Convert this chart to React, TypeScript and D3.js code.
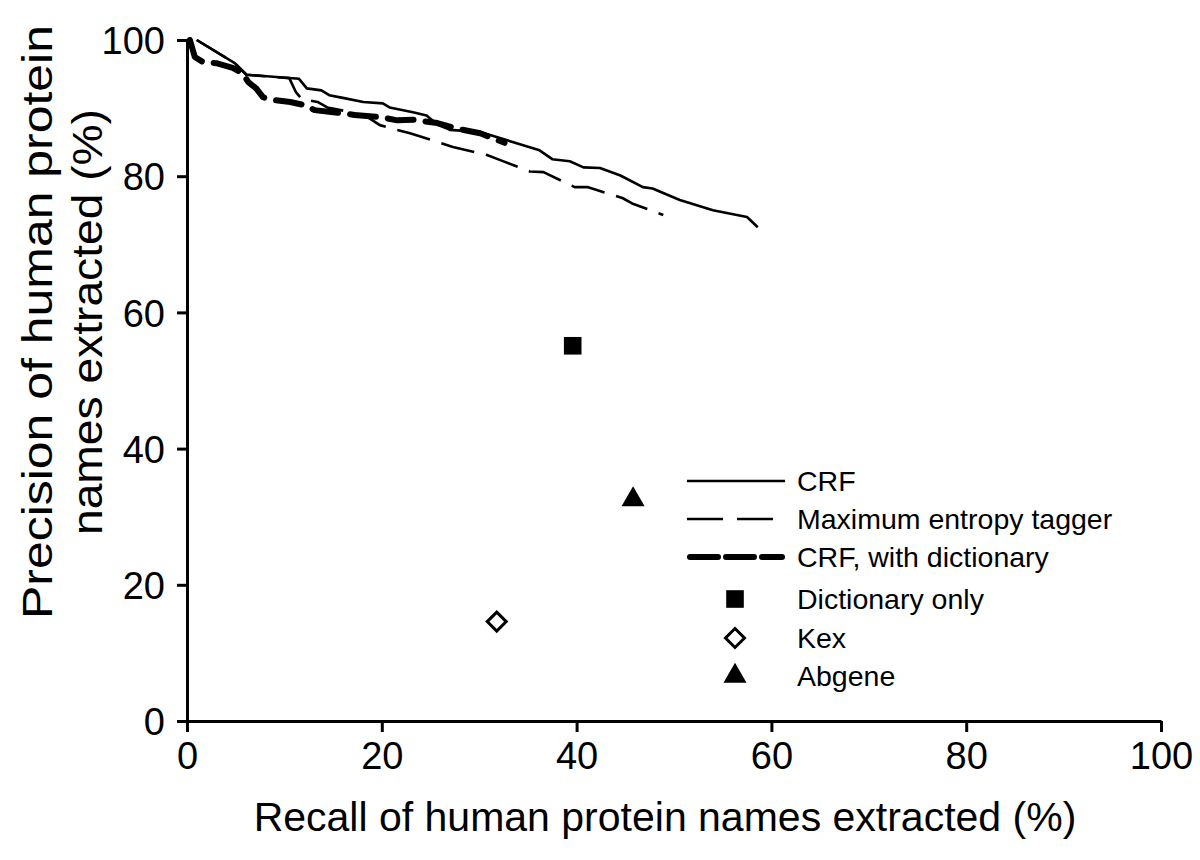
import React, { useEffect, useRef } from 'react';
import * as d3 from 'd3';

// [recall %, precision %]
const crfCurve = [
  [1.0, 100], [4.9, 96.6], [6.1, 94.9], [11.5, 94.3], [12.3, 92.9], [13.8, 92.6],
  [14.6, 91.9], [16.0, 91.5], [18.1, 90.9], [20.1, 90.7], [20.8, 90.1], [23.2, 89.4],
  [24.6, 88.9], [25.7, 87.6], [27.0, 86.8], [30.1, 86.5], [32.8, 85.3], [36.2, 83.8],
  [37.5, 82.5], [39.3, 82.2], [40.7, 81.3], [42.4, 81.2], [44.5, 80.1], [46.8, 78.4],
  [47.8, 78.2], [50.6, 76.5], [54.0, 75.0], [57.5, 74.0], [58.6, 72.5],
];

const maxentCurve = [
  [1.0, 100], [4.9, 96.6], [6.1, 94.9], [10.5, 94.4], [11.2, 92.3], [11.8, 91.3],
  [13.4, 90.9], [14.4, 90.1], [16.5, 89.5], [18.5, 88.7], [19.8, 87.5], [21.6, 86.8],
  [22.9, 86.3], [26.0, 84.9], [27.3, 84.3], [30.8, 83.1], [32.1, 82.4], [35.2, 80.7],
  [36.6, 80.6], [39.8, 78.4], [41.1, 78.4], [44.7, 76.8], [45.7, 76.0], [48.9, 74.3],
];

const crfDictCurve = [
  [0.3, 100], [0.8, 97.5], [1.6, 96.8], [3.0, 96.6], [4.7, 95.9], [5.7, 95.1],
  [6.3, 93.8], [7.1, 92.9], [7.8, 91.6], [8.8, 91.2], [10.6, 90.9], [12.2, 90.4],
  [13.1, 89.7], [15.0, 89.4], [17.2, 89.0], [19.8, 88.7], [21.6, 88.2], [23.2, 88.3],
  [25.7, 87.8], [28.0, 86.9], [30.1, 86.3], [32.6, 84.9],
];

const dictOnlyPoint = [39.6, 55.1];
const kexPoint = [31.8, 14.6];
const abgenePoint = [45.8, 32.5];

const xTicks = [0, 20, 40, 60, 80, 100];
const yTicks = [0, 20, 40, 60, 80, 100];

const legendLabels = [
  'CRF',
  'Maximum entropy tagger',
  'CRF, with dictionary',
  'Dictionary only',
  'Kex',
  'Abgene',
];

const FONT = '"Liberation Sans", Arial, Helvetica, sans-serif';

function drawChart(svgEl) {
  const svg = d3.select(svgEl);
  svg.selectAll('*').remove();

  const x = d3.scaleLinear().domain([0, 100]).range([187, 1161]);
  const y = d3.scaleLinear().domain([0, 100]).range([721, 40]);

  const line = d3
    .line()
    .x((d) => x(d[0]))
    .y((d) => y(d[1]));

  // curves
  svg
    .append('path')
    .datum(crfCurve)
    .attr('d', line)
    .attr('fill', 'none')
    .attr('stroke', '#000')
    .attr('stroke-width', 2.6)
    .attr('stroke-linejoin', 'round');

  svg
    .append('path')
    .datum(maxentCurve)
    .attr('d', line)
    .attr('fill', 'none')
    .attr('stroke', '#000')
    .attr('stroke-width', 2.6)
    .attr('stroke-dasharray', '34 12')
    .attr('stroke-linejoin', 'round');

  svg
    .append('path')
    .datum(crfDictCurve)
    .attr('d', line)
    .attr('fill', 'none')
    .attr('stroke', '#000')
    .attr('stroke-width', 6)
    .attr('stroke-dasharray', '26 12')
    .attr('stroke-linecap', 'round')
    .attr('stroke-linejoin', 'round');

  // point markers
  const square = d3.symbol().type(d3.symbolSquare).size(310);
  const diamond = (cx, cy, r) => `M${cx},${cy - r}L${cx + r},${cy}L${cx},${cy + r}L${cx - r},${cy}Z`;
  const triangle = d3.symbol().type(d3.symbolTriangle).size(230);

  const drawSquare = (cx, cy) =>
    svg.append('path').attr('d', square()).attr('transform', `translate(${cx},${cy})`).attr('fill', '#000');
  const drawDiamond = (cx, cy) =>
    svg
      .append('path')
      .attr('d', diamond(cx, cy, 9.5))
      .attr('fill', '#fff')
      .attr('stroke', '#000')
      .attr('stroke-width', 3);
  const drawTriangle = (cx, cy) =>
    svg.append('path').attr('d', triangle()).attr('transform', `translate(${cx},${cy})`).attr('fill', '#000');

  drawSquare(x(dictOnlyPoint[0]), y(dictOnlyPoint[1]));
  drawDiamond(x(kexPoint[0]), y(kexPoint[1]));
  drawTriangle(x(abgenePoint[0]), y(abgenePoint[1]));

  // axes
  const xAxis = svg
    .append('g')
    .attr('transform', `translate(0,${y(0)})`)
    .call(d3.axisBottom(x).tickValues(xTicks).tickSize(11).tickSizeOuter(0).tickPadding(10));
  const yAxis = svg
    .append('g')
    .attr('transform', `translate(${x(0)},0)`)
    .call(d3.axisLeft(y).tickValues(yTicks).tickSize(10).tickSizeOuter(0).tickPadding(12));

  [xAxis, yAxis].forEach((g) => {
    g.select('.domain').attr('stroke-width', 3);
    g.selectAll('.tick line').attr('stroke-width', 3);
    g.selectAll('.tick text')
      .attr('font-family', FONT)
      .attr('font-size', 38)
      .attr('fill', '#000');
  });
  yAxis.selectAll('.tick text').attr('dy', '0.36em');

  // axis titles
  svg
    .append('text')
    .attr('x', 665)
    .attr('y', 831)
    .attr('text-anchor', 'middle')
    .attr('font-family', FONT)
    .attr('font-size', 41)
    .text('Recall of human protein names extracted (%)');

  svg
    .append('text')
    .attr('transform', 'translate(52,322) rotate(-90)')
    .attr('text-anchor', 'middle')
    .attr('font-family', FONT)
    .attr('font-size', 42)
    .attr('textLength', 594)
    .attr('lengthAdjust', 'spacingAndGlyphs')
    .text('Precision of human protein');

  svg
    .append('text')
    .attr('transform', 'translate(102,322) rotate(-90)')
    .attr('text-anchor', 'middle')
    .attr('font-family', FONT)
    .attr('font-size', 42)
    .attr('textLength', 426)
    .attr('lengthAdjust', 'spacingAndGlyphs')
    .text('names extracted (%)');

  // legend
  const legendX0 = 687;
  const legendX1 = 785;
  const legendTextX = 797;
  const rowY = [481, 519, 557, 599, 638, 676];

  svg.append('line')
    .attr('x1', legendX0).attr('x2', legendX1).attr('y1', rowY[0]).attr('y2', rowY[0])
    .attr('stroke', '#000').attr('stroke-width', 2.6);
  svg.append('line')
    .attr('x1', legendX0).attr('x2', legendX1).attr('y1', rowY[1]).attr('y2', rowY[1])
    .attr('stroke', '#000').attr('stroke-width', 2.6).attr('stroke-dasharray', '36 14');
  svg.append('line')
    .attr('x1', legendX0 + 3).attr('x2', legendX1 - 3).attr('y1', rowY[2]).attr('y2', rowY[2])
    .attr('stroke', '#000').attr('stroke-width', 6).attr('stroke-dasharray', '28 8')
    .attr('stroke-linecap', 'round');

  const markerX = 735;
  drawSquare(markerX, rowY[3]);
  drawDiamond(markerX, rowY[4]);
  drawTriangle(markerX, rowY[5]);

  svg
    .append('g')
    .selectAll('text')
    .data(legendLabels)
    .join('text')
    .attr('x', legendTextX)
    .attr('y', (d, i) => rowY[i] + 10)
    .attr('font-family', FONT)
    .attr('font-size', 28.5)
    .attr('fill', '#000')
    .text((d) => d);
}

export default function App() {
  const svgRef = useRef(null);

  useEffect(() => {
    if (svgRef.current) drawChart(svgRef.current);
  }, []);

  return (
    <svg
      ref={svgRef}
      width={1200}
      height={860}
      viewBox="0 0 1200 860"
      style={{ display: 'block', position: 'absolute', left: 0, top: 0, background: '#fff' }}
    />
  );
}
